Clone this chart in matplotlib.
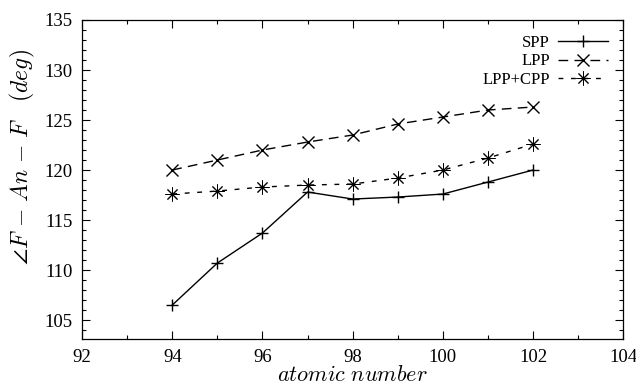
from matplotlib import pyplot as plt
from matplotlib.ticker import MultipleLocator

# %% Data

atomicNum = [94,95,96,97,98,99,100,101,102]
angleSPP = [106.5,110.7,113.7,117.8,117.1,117.3,117.6,118.8,120.0]
angleLPP = [120.0,121.0,122.0,122.8,123.5,124.6,125.3,126.0,126.3]
angleCPP = [117.6,117.9,118.3,118.5,118.6,119.2,120.0,121.2,122.6]

# %% Style

plt.rcParams['font.family'] = 'Liberation Serif'
plt.rcParams['mathtext.fontset'] = 'cm'

fig = plt.figure(figsize=(6.36,3.92),dpi=100)
ax = fig.add_axes([0.129,0.135,0.851,0.814])

# %% Curves

ax.plot(atomicNum,angleSPP,'-',color='k',lw=1,marker='+',ms=9,mew=1,label='SPP')
ax.plot(atomicNum,angleLPP,color='k',lw=1,dashes=(7,4.5),marker='x',ms=8,mew=1,label='LPP')
ax.plot(atomicNum,angleCPP,color='k',lw=1,dashes=(3.5,5.5),marker=(8,2,0),ms=10,mew=0.7,label='LPP+CPP')

ax.set_xlim(92,104)
ax.set_ylim(103.1,135)
ax.xaxis.set_major_locator(MultipleLocator(2))
ax.xaxis.set_minor_locator(MultipleLocator(1))
ax.yaxis.set_major_locator(MultipleLocator(5))
ax.yaxis.set_minor_locator(MultipleLocator(1))
ax.tick_params(which='both',direction='in',top=True,right=True,labelsize=13.5,width=0.8)
ax.tick_params(which='major',length=6,pad=7)
ax.tick_params(which='minor',length=3)
for s in ax.spines.values(): s.set_linewidth(0.9)

ax.set_xlabel(r'$atomic\ number$',fontsize=16,labelpad=0)
ax.set_ylabel(r'$\angle F\ \mathbf{-}\ An\ \mathbf{-}\ F\quad (deg)$',fontsize=17)
ax.yaxis.set_label_coords(-0.083,0.57)

ax.legend(loc='upper right',frameon=False,markerfirst=False,fontsize=12,
          handlelength=3,handletextpad=0.5,labelspacing=0.15,borderaxespad=0.5)

fig.savefig('out.png',dpi=100)
